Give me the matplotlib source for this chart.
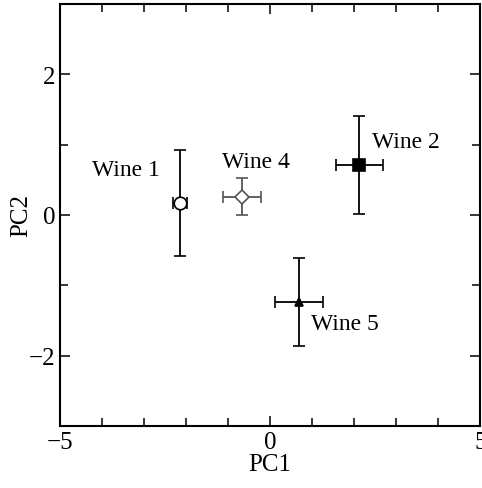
import matplotlib.pyplot as plt
import numpy as np

plt.rcParams['font.family'] = ['Liberation Serif', 'DejaVu Serif']

# PCA scores (mean +/- spread) for each wine
wines = ['Wine 1', 'Wine 4', 'Wine 2', 'Wine 5']
pc1 = [-2.14, -0.67, 2.12, 0.69]
pc2 = [0.17, 0.26, 0.71, -1.24]
pc1_err = [0.17, 0.45, 0.56, 0.57]
pc2_err = [0.75, 0.26, 0.70, 0.63]
label_x = [-4.24, -1.14, 2.43, 0.98]
label_y = [0.64, 0.76, 1.04, -1.54]
markers = ['o', 'D', 's', '^']
faces = ['white', 'white', 'black', 'black']
edges = ['black', '#555555', 'black', 'black']
sizes = [9, 7, 9, 6]

fig = plt.figure(figsize=(4.82, 4.89), dpi=100)
ax = fig.add_axes([0.1245, 0.127, 0.872, 0.863])

for i in range(len(wines)):
    ax.errorbar(pc1[i], pc2[i], xerr=pc1_err[i], yerr=pc2_err[i],
                fmt=markers[i], mfc=faces[i], mec=edges[i], ms=sizes[i],
                ecolor=edges[i], elinewidth=1.3, capsize=4, capthick=1.3,
                mew=1.2)
    ax.text(label_x[i], label_y[i], wines[i], fontsize=17,
            ha='left', va='center')

ax.set_xlim(-5, 5)
ax.set_ylim(-3, 3)
ax.set_xticks([-5, 0, 5])
ax.set_xticklabels(['\u22125', '0', '5'])
ax.set_yticks([-2, 0, 2])
ax.set_yticklabels(['\u22122', '0', '2'])
ax.set_xticks(np.arange(-4, 5, 1), minor=True)
ax.set_yticks([-1, 1], minor=True)
ax.tick_params(which='both', direction='in', top=True, right=True,
               labelsize=18, width=1.1)
ax.tick_params(which='major', length=7)
ax.tick_params(which='minor', length=6)
for s in ax.spines.values():
    s.set_linewidth(1.5)

ax.set_xlabel('PC1', fontsize=18, labelpad=0)
ax.set_ylabel('PC2', fontsize=18, labelpad=-3)

fig.savefig('out.png', dpi=100)
